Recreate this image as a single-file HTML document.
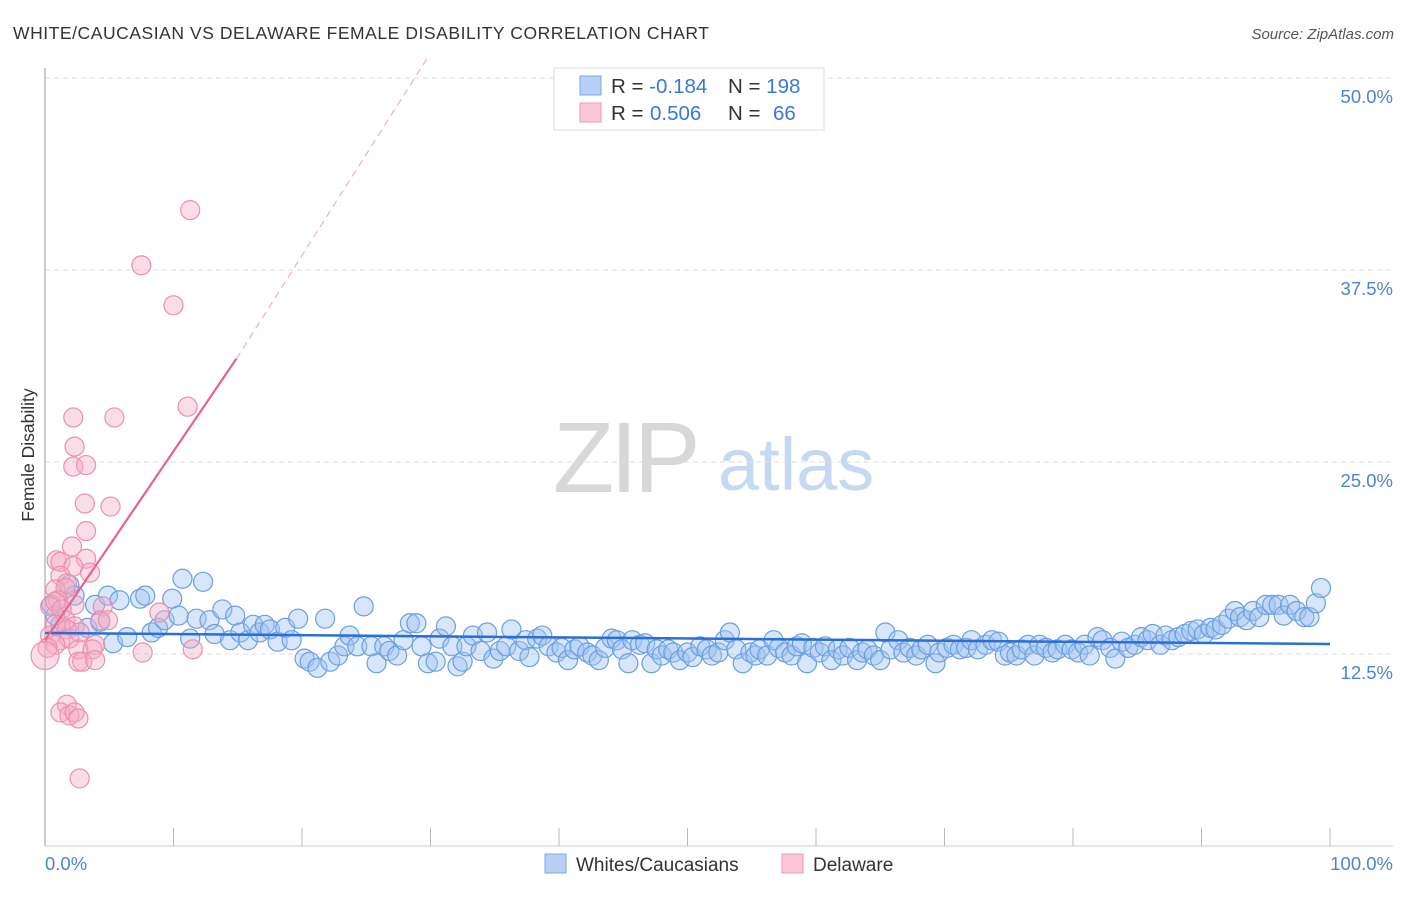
<!DOCTYPE html>
<html><head><meta charset="utf-8"><style>
body{margin:0;background:#fff;font-family:"Liberation Sans",sans-serif;}
svg text{font-family:"Liberation Sans",sans-serif;}
</style></head><body>
<svg id="chart" width="1406" height="892" viewBox="0 0 1406 892" xmlns="http://www.w3.org/2000/svg">
<text x="13" y="39" font-size="17.5" fill="#333" letter-spacing="0.55">WHITE/CAUCASIAN VS DELAWARE FEMALE DISABILITY CORRELATION CHART</text>
<text x="1394" y="39" font-size="15" fill="#555" font-style="italic" text-anchor="end">Source: ZipAtlas.com</text>
<g>
<text x="553" y="492" font-size="100" fill="#d8d8d8" font-family="Liberation Serif, serif" letter-spacing="-4">ZIP</text>
<text x="718" y="490" font-size="74" fill="#c6d9f2">atlas</text>
</g>
<g id="grid"></g>
<line x1="45" y1="68" x2="45" y2="846" stroke="#aaa" stroke-width="1.2"/>
<line x1="45" y1="846" x2="1393" y2="846" stroke="#ccc" stroke-width="1"/>
<g id="xticks"></g>
<g id="ylabels"></g>
<text transform="translate(34,455) rotate(-90)" font-size="17.5" fill="#333" text-anchor="middle">Female Disability</text>
<text x="45" y="870" font-size="18.5" fill="#4a84d6">0.0%</text>
<text x="1393" y="870" font-size="18.5" fill="#4a84d6" text-anchor="end">100.0%</text>
<g id="pts"></g>
<g id="trends"></g>
<g>
<rect x="554" y="68" width="270" height="62" fill="#fff" stroke="#ddd"/>
<rect x="580" y="76" width="21" height="19" fill="#b6d0f6" stroke="#7aa7e8"/>
<rect x="580" y="103" width="21" height="19" fill="#f9c6d5" stroke="#ee9ab5"/>
<text x="611" y="93" font-size="20.5" fill="#333">R = <tspan fill="#3a78d8">-0.184</tspan></text>
<text x="728" y="93" font-size="20.5" fill="#333">N = <tspan fill="#3a78d8">198</tspan></text>
<text x="611" y="120" font-size="20.5" fill="#333">R = <tspan fill="#3a78d8" x="650">0.506</tspan></text>
<text x="728" y="120" font-size="20.5" fill="#333">N = <tspan fill="#3a78d8" x="773">66</tspan></text>
</g>
<g>
<rect x="545" y="854" width="21" height="19" fill="#b6d0f6" stroke="#7aa7e8"/>
<text x="576" y="871" font-size="19" fill="#333">Whites/Caucasians</text>
<rect x="782" y="854" width="21" height="19" fill="#f9c6d5" stroke="#ee9ab5"/>
<text x="813" y="871" font-size="19" fill="#333">Delaware</text>
</g>
</svg>
<script>
const yTicks=[12.5,25,37.5,50];
const xTickVals=[0,10,20,30,40,50,60,70,80,90,100];
const blueX=[0.5,0.8,1.2,1.9,2.3,3.3,3.9,4.3,4.9,5.3,5.8,6.4,7.4,7.8,8.3,8.8,9.3,9.9,10.4,10.7,11.3,11.8,12.3,12.8,13.2,13.8,14.4,14.8,15.2,15.8,16.2,16.7,17.1,17.5,18.1,18.7,19.2,19.7,20.2,20.6,21.2,21.8,22.2,22.8,23.3,23.7,24.3,24.8,25.4,25.8,26.4,26.8,27.4,27.9,28.4,28.9,29.3,29.8,30.4,30.7,31.2,31.7,32.1,32.5,32.8,33.3,33.9,34.4,34.9,35.4,35.9,36.3,36.9,37.4,37.7,38.3,38.7,39.2,39.8,40.2,40.7,41.2,41.6,42.2,42.6,43.1,43.6,44.1,44.5,44.9,45.4,45.7,46.3,46.7,47.2,47.6,48.0,48.5,48.9,49.4,50.0,50.4,51.0,51.5,51.9,52.4,52.9,53.3,53.8,54.3,54.9,55.3,55.6,56.2,56.7,57.1,57.6,58.1,58.5,58.9,59.3,59.8,60.3,60.7,61.2,61.7,62.1,62.6,63.2,63.6,64.0,64.5,65.0,65.4,65.8,66.4,66.8,67.3,67.8,68.2,68.7,69.3,69.6,70.2,70.7,71.2,71.7,72.1,72.6,73.2,73.7,74.2,74.7,75.1,75.6,76.0,76.5,77.0,77.4,77.9,78.4,78.8,79.4,79.9,80.4,80.9,81.3,81.9,82.3,82.9,83.3,83.8,84.3,84.8,85.3,85.8,86.2,86.8,87.2,87.7,88.2,88.7,89.2,89.7,90.2,90.7,91.1,91.6,92.1,92.6,93.0,93.5,94.0,94.5,95.0,95.5,96.0,96.4,96.9,97.4,98.0,98.4,98.9,99.3];
const blueY=[15.7,15.0,14.4,17.0,16.3,14.2,15.7,14.6,16.3,13.2,16.0,13.6,16.1,16.3,13.9,14.2,14.7,16.1,15.0,17.4,13.5,14.8,17.2,14.7,13.8,15.4,13.4,15.0,13.9,13.4,14.4,13.9,14.4,14.1,13.3,14.2,13.4,14.8,12.2,12.0,11.6,14.8,12.0,12.4,13.0,13.7,13.0,15.6,13.0,11.9,13.0,12.7,12.4,13.4,14.5,14.5,13.0,11.9,12.0,13.5,14.3,13.0,11.7,12.0,13.0,13.7,12.7,13.9,12.2,12.7,13.0,14.1,12.7,13.4,12.3,13.5,13.7,13.0,12.6,12.9,12.1,12.8,13.0,12.6,12.4,12.1,12.9,13.5,13.4,12.8,11.9,13.4,13.1,13.2,11.9,12.8,12.4,12.8,12.6,12.1,12.6,12.3,13.0,12.8,12.4,12.6,13.4,13.9,12.8,11.9,12.6,12.4,12.8,12.4,13.4,12.9,12.6,12.4,13.0,13.2,11.9,12.9,12.6,13.0,12.1,12.8,12.4,12.9,12.1,12.6,12.8,12.4,12.1,13.9,12.8,13.4,12.6,12.9,12.4,12.8,13.1,11.9,12.6,12.9,13.1,12.8,12.9,13.4,12.8,13.1,13.4,13.3,12.4,12.6,12.4,12.8,13.1,12.4,13.1,12.9,12.6,12.8,13.1,12.8,12.6,13.1,12.4,13.6,13.4,12.9,12.2,13.3,12.9,13.1,13.6,13.4,13.8,13.1,13.7,13.4,13.6,13.8,14.0,14.1,13.8,14.2,14.1,14.4,14.8,15.3,14.9,14.7,15.3,14.9,15.7,15.7,15.7,15.0,15.7,15.3,14.9,14.9,15.8,16.8];
const pinkX=[11.3,7.5,10.0,11.1,2.2,5.4,2.3,2.2,3.2,3.1,5.1,3.2,2.1,0.9,1.2,3.2,2.2,3.5,1.2,1.7,0.8,1.6,1.0,0.4,0.8,2.3,1.3,4.5,8.9,1.6,2.3,0.8,1.7,4.3,4.9,0.4,1.2,1.9,2.7,3.9,0.8,0.2,0.0,2.6,3.7,7.6,11.5,2.6,2.9,3.9,1.7,1.2,1.9,2.3,2.6,2.7];
const pinkY=[41.4,37.8,35.2,28.6,27.9,27.9,26.0,24.7,24.8,22.3,22.1,20.5,19.5,18.6,18.5,18.7,18.2,17.8,17.6,17.1,16.7,16.8,16.0,15.6,15.9,15.7,15.4,15.6,15.2,14.7,14.3,14.4,14.1,14.7,14.7,13.7,13.4,13.5,13.9,13.1,13.1,12.9,12.4,12.8,12.8,12.6,12.8,12.0,12.0,12.1,9.2,8.7,8.5,8.7,8.3,4.4];
const blueTrend=[13.87,13.15];
const pinkTrend=[13.4,1.23];
const pinkSolidEnd=14.9;

const NS="http://www.w3.org/2000/svg";
const X0=45,X1=1330,Y0=846,YPER=15.36;
function sx(v){return X0+(X1-X0)*v/100;}
function sy(v){return Y0-v*YPER;}
function mk(tag,attrs,parent){const e=document.createElementNS(NS,tag);for(const k in attrs)e.setAttribute(k,attrs[k]);parent.appendChild(e);return e;}

const grid=document.getElementById('grid');
const ylab=document.getElementById('ylabels');
yTicks.forEach(t=>{
  const l=mk('line',{x1:45,x2:1393,y1:sy(t),y2:sy(t),stroke:'#ddd','stroke-dasharray':'5,4'},grid);
  
  
  const tx=mk('text',{x:1393,y:sy(t)+25,'font-size':18.5,fill:'#4a84d6','text-anchor':'end'},ylab);
  tx.textContent=t.toFixed(1)+'%';
  
  
});
const xt=document.getElementById('xticks');
xTickVals.forEach(v=>{
  const l=mk('line',{x1:sx(v),x2:sx(v),y1:Y0,y2:Y0+(v===0?0:-18),stroke:'#bbb'},xt);
  
  
});
const pts=document.getElementById('pts');
blueX.forEach((x,i)=>{
  const c=mk('circle',{cx:sx(x),cy:sy(blueY[i]),r:9.5,fill:'rgba(160,195,240,0.42)',stroke:'#6b9fe3','stroke-width':1.2},pts);
  
  
});
pinkX.forEach((x,i)=>{
  const c=mk('circle',{cx:sx(x),cy:sy(pinkY[i]),r:(i===42?14:9.5),fill:'rgba(246,170,195,0.4)',stroke:'#ec8fae','stroke-width':1.2},pts);
  
  
});
const tr=document.getElementById('trends');
const bl=mk('line',{x1:sx(0),y1:sy(blueTrend[0]),x2:sx(100),y2:sy(blueTrend[1]),stroke:'#2a6fd6','stroke-width':2.5},tr);


const pe=(50-pinkTrend[0])/pinkTrend[1];
const pl=mk('line',{x1:sx(0),y1:sy(pinkTrend[0]),x2:sx(pinkSolidEnd),y2:sy(pinkTrend[0]+pinkTrend[1]*pinkSolidEnd),stroke:'#e8628e','stroke-width':2.2},tr);


const pd=mk('line',{x1:sx(pinkSolidEnd),y1:sy(pinkTrend[0]+pinkTrend[1]*pinkSolidEnd),x2:sx(pe),y2:sy(50)-20,stroke:'#eeb0c4','stroke-width':1.2,'stroke-dasharray':'7,5'},tr);


</script>
</body></html>
